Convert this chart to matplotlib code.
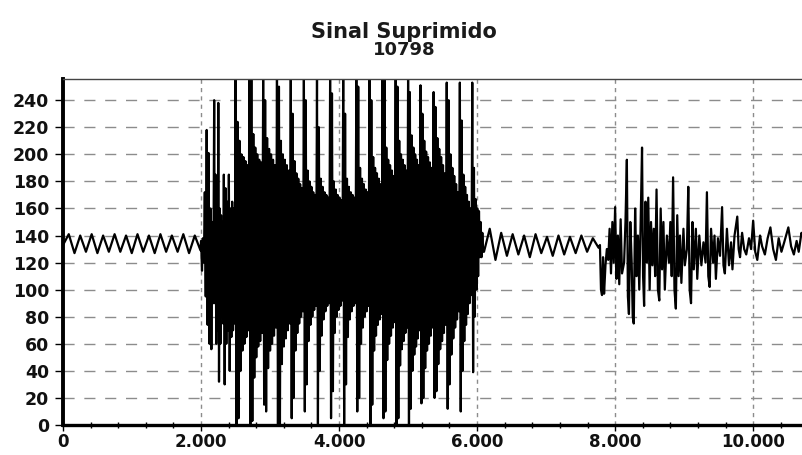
import numpy as np
import matplotlib.pyplot as plt

# waveform extremes, read as sample index / amplitude (8-bit, centre ~134)
lead_step = 83
lead_vals = [133, 141, 127, 140, 128, 141, 127, 140, 128, 141, 128, 140, 127,
             141, 128, 140, 127, 141, 128, 140, 128, 141, 127, 140, 129]

# voiced burst: one row of extremes per pitch period
burst_starts = [2000, 2190, 2330, 2500, 2700, 2900, 3100, 3300, 3490, 3680,
                3870, 4060, 4250, 4440, 4630, 4820, 5000, 5180, 5370, 5560,
                5750, 5930, 6100]
burst_vals = [
    [136, 114, 138, 120, 172, 95, 218, 74, 201, 60, 160, 56, 150, 90],
    [240, 90, 185, 60, 150, 70, 238, 32, 160, 60, 155, 80, 150, 75],
    [185, 30, 175, 60, 165, 70, 185, 40, 160, 65, 165, 70, 160, 75],
    [255, 0, 224, 5, 210, 40, 200, 55, 198, 60, 195, 65, 192, 70],
    [255, 0, 255, 3, 215, 35, 205, 50, 200, 58, 196, 62, 194, 68],
    [255, 15, 240, 10, 212, 42, 204, 55, 200, 60, 196, 66, 192, 72],
    [255, 0, 250, 0, 210, 45, 200, 58, 196, 64, 192, 70, 188, 75],
    [255, 5, 230, 20, 195, 55, 186, 68, 182, 75, 178, 80, 175, 84],
    [255, 10, 240, 30, 188, 62, 180, 74, 176, 80, 172, 85, 170, 88],
    [255, 0, 220, 40, 182, 66, 176, 78, 172, 84, 170, 88, 168, 90],
    [255, 5, 245, 25, 180, 68, 174, 80, 170, 85, 168, 88, 166, 92],
    [255, 0, 230, 30, 182, 65, 176, 78, 172, 84, 170, 88, 168, 90],
    [255, 10, 250, 20, 190, 60, 182, 72, 178, 80, 174, 84, 172, 88],
    [255, 0, 240, 15, 198, 55, 190, 66, 186, 74, 182, 78, 178, 82],
    [255, 5, 255, 10, 205, 48, 196, 60, 192, 66, 188, 72, 184, 76],
    [255, 0, 250, 5, 210, 44, 200, 56, 196, 62, 192, 68, 188, 72],
    [255, 0, 246, 12, 214, 40, 205, 52, 200, 58, 196, 64, 192, 70],
    [251, 16, 230, 20, 210, 42, 202, 55, 198, 60, 194, 66, 190, 72],
    [246, 20, 235, 25, 212, 45, 204, 56, 198, 62, 192, 68, 186, 74],
    [253, 12, 240, 30, 200, 52, 190, 64, 184, 72, 178, 78, 172, 84],
    [253, 10, 225, 40, 185, 62, 176, 74, 170, 82, 165, 90, 160, 96],
    [253, 39, 190, 80, 167, 100, 160, 110, 158, 124, 150, 124, 142, 128],
]

gap_start = 6100
gap_step = 83
gap_vals = [128, 145, 122, 142, 125, 141, 126, 140, 124, 141, 127, 139, 125,
            140, 126, 139, 127, 140, 128, 138, 131]

tail_x = [7780, 7795, 7810, 7825, 7840, 7860, 7880, 7900, 7920, 7940, 7960,
          7980, 8000, 8020, 8040, 8060, 8080, 8100, 8130, 8150, 8170, 8185,
          8200, 8220, 8240, 8255, 8270, 8290, 8310, 8330, 8350, 8370, 8390,
          8405, 8420, 8440, 8460, 8480, 8500, 8520, 8540, 8560, 8580, 8600,
          8620, 8640, 8660, 8680, 8700, 8720, 8750, 8780, 8800, 8820, 8840,
          8860, 8880, 8900, 8920, 8940, 8960, 8990, 9010, 9040, 9060, 9080,
          9100, 9120, 9140, 9170, 9190, 9220, 9250, 9280, 9310, 9330, 9350,
          9370, 9390, 9420, 9440, 9460, 9490, 9520, 9550, 9570, 9590, 9620,
          9650, 9680, 9700, 9730, 9770, 9790, 9810, 9840, 9870, 9900, 9940,
          9970, 10000, 10030, 10060, 10100, 10130, 10170, 10210, 10250, 10290,
          10330, 10370, 10410, 10450, 10510, 10550, 10590, 10630, 10660, 10700,
          10750, 10798]
tail_y = [133, 100, 96, 124, 97, 118, 130, 122, 145, 112, 150,
          120, 161, 108, 140, 104, 152, 112, 120, 150, 196, 95,
          82, 150, 120, 80, 75, 160, 110, 140, 100, 150, 205,
          110, 88, 165, 120, 168, 100, 150, 118, 145, 110, 174,
          100, 92, 160, 115, 150, 100, 140, 120, 150, 110, 183,
          100, 86, 155, 110, 140, 105, 145, 118, 130, 176, 100,
          90, 150, 115, 145, 108, 140, 118, 135, 120, 172, 110,
          102, 145, 120, 140, 108, 138, 125, 161, 118, 112, 145,
          118, 135, 115, 140, 154, 130, 124, 142, 130, 126, 138,
          130, 151, 128, 122, 140, 132, 126, 138, 146, 130,
          122, 138, 128, 135, 146, 132, 126, 136, 128, 142,
          136, 138]

n_samples = 10798
xtick_pos = [0, 2000, 4000, 6000, 8000, 10000]
xtick_labels = ['0', '2.000', '4.000', '6.000', '8.000', '10.000']
ytick_pos = list(range(0, 241, 20))

# assemble the polyline
xs = [np.arange(len(lead_vals)) * lead_step]
ys = [np.array(lead_vals)]
for i, vals in enumerate(burst_vals):
    xs.append(np.linspace(burst_starts[i], burst_starts[i + 1], len(vals), endpoint=False))
    ys.append(np.array(vals))
xs.append(gap_start + np.arange(len(gap_vals)) * gap_step)
ys.append(np.array(gap_vals))
xs.append(np.array(tail_x))
ys.append(np.array(tail_y))
x = np.concatenate(xs)
y = np.concatenate(ys)

fig = plt.figure(figsize=(8.03, 4.55), dpi=100)
ax = fig.add_axes([0.0785, 0.0659, 0.928, 0.7615])

for v in ytick_pos[1:]:
    ax.axhline(v, color='#8c8c8c', lw=1, ls=(0, (8, 7)), zorder=0)
for v in xtick_pos[1:]:
    ax.axvline(v, color='#8c8c8c', lw=1, ls=(0, (3, 3)), zorder=0)

ax.plot(x, y, color='black', lw=1.6, zorder=2)

ax.set_xlim(0, n_samples)
ax.set_ylim(0, 256)

ax.set_xticks(xtick_pos)
ax.set_xticklabels(xtick_labels)
ax.set_xticks(np.arange(0, n_samples, 400), minor=True)
ax.set_yticks(ytick_pos)
ax.tick_params(axis='y', length=6, width=1, pad=4, labelsize=12.5)
ax.tick_params(axis='x', which='major', length=4, width=1, pad=2, labelsize=12)
ax.tick_params(axis='x', which='minor', direction='inout', length=4, width=1)
for lab in ax.get_xticklabels() + ax.get_yticklabels():
    lab.set_fontweight('bold')
    lab.set_color('#111111')

ax.spines['left'].set_linewidth(2.8)
ax.spines['bottom'].set_linewidth(2.4)
ax.spines['top'].set_linewidth(1)
ax.spines['top'].set_color('#444444')
ax.spines['right'].set_visible(False)

fig.text(0.503, 0.930, 'Sinal Suprimido', ha='center', va='center',
         fontsize=15, fontweight='bold', color='#1a1a1a')
fig.text(0.503, 0.890, '10798', ha='center', va='center',
         fontsize=13, fontweight='bold', color='#1a1a1a')

fig.savefig('out.png', dpi=100)
